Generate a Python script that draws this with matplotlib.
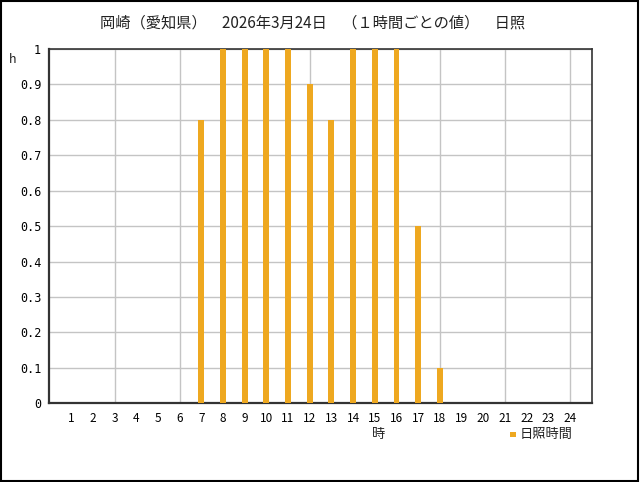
import matplotlib
matplotlib.use("Agg")
import matplotlib.pyplot as plt
from matplotlib.patches import Rectangle

plt.rcParams['font.family'] = ['Noto Sans CJK JP', 'DejaVu Sans']

hours = list(range(1, 25))
sunshine = [0, 0, 0, 0, 0, 0, 0.8, 1, 1, 1, 1, 0.9, 0.8, 1, 1, 1, 0.5, 0.1, 0, 0, 0, 0, 0, 0]
yticks = [0, 0.1, 0.2, 0.3, 0.4, 0.5, 0.6, 0.7, 0.8, 0.9, 1]
ytick_labels = ['0', '0.1', '0.2', '0.3', '0.4', '0.5', '0.6', '0.7', '0.8', '0.9', '1']
title = '岡崎（愛知県）　2026年3月24日　（１時間ごとの値）　日照'
series_name = '日照時間'
bar_color = '#EEA820'

fig = plt.figure(figsize=(6.4, 4.82), dpi=100)
ax = fig.add_axes([0.0773, 0.1633, 0.8472, 0.735])

ax.bar(hours, sunshine, width=0.27, color=bar_color, zorder=3)
ax.set_xlim(0, 25)
ax.set_ylim(0, 1)

ax.set_yticks(yticks)
ax.set_yticklabels(ytick_labels, family='DejaVu Sans Mono', fontsize=8.5)
ax.set_xticks(hours)
ax.set_xticklabels([str(h) for h in hours], fontsize=8.5)
ax.tick_params(axis='both', length=0, pad=6)

for y in yticks[1:]:
    ax.axhline(y, color='#c4c4c4', lw=1, zorder=1)
for x in range(3, 25, 3):
    ax.axvline(x, color='#c4c4c4', lw=1, zorder=1)

for s in ax.spines.values():
    s.set_color('#333333')
    s.set_linewidth(1.2)
ax.spines['left'].set_linewidth(1.6)
ax.spines['bottom'].set_linewidth(1.6)

fig.text(0.488, 0.953, title, ha='center', va='center', fontsize=11, color='#222222')
fig.text(0.019, 0.876, 'h', ha='center', va='center', fontsize=9, color='#222222')
fig.text(0.592, 0.098, '時', ha='center', va='center', fontsize=9.5, color='#222222')

fig.patches.append(Rectangle((0.797, 0.093), 0.0085, 0.0113, transform=fig.transFigure,
                             facecolor=bar_color, edgecolor='none'))
fig.text(0.812, 0.098, series_name, ha='left', va='center', fontsize=9.5, color='#222222')

fig.patches.append(Rectangle((0.0015, 0.002), 0.9955, 0.995, transform=fig.transFigure,
                             facecolor='none', edgecolor='black', lw=1.5))

fig.savefig('out.png', dpi=100)
